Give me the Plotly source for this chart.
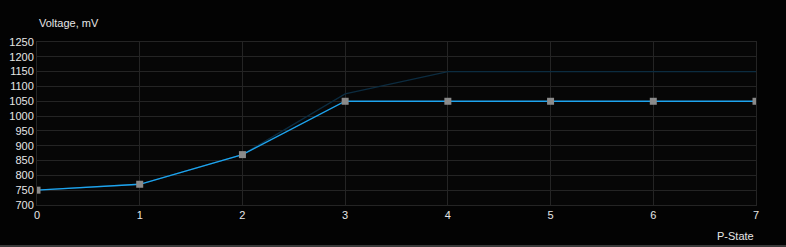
import plotly.graph_objects as go

pstates = [0, 1, 2, 3, 4, 5, 6, 7]
voltage = [750, 770, 870, 1050, 1050, 1050, 1050, 1050]
default_voltage = [750, 770, 870, 1075, 1150, 1150, 1150, 1150]
y_ticks = list(range(700, 1251, 50))

fig = go.Figure()
fig.add_trace(go.Scatter(x=pstates, y=default_voltage, mode="lines",
                         line=dict(color="#0c2c40", width=1.3), hoverinfo="skip"))
fig.add_trace(go.Scatter(x=pstates, y=voltage, mode="lines+markers",
                         line=dict(color="#1ea4ee", width=1.3),
                         marker=dict(symbol="square", size=7, color="#8a8a8a")))

axis_font = dict(family="Liberation Sans, Arial", size=11, color="#e6e6e6")
fig.update_layout(
    width=786, height=247,
    margin=dict(l=37, r=30, t=42, b=42, autoexpand=False),
    paper_bgcolor="#030303", plot_bgcolor="#060606",
    showlegend=False,
    xaxis=dict(range=[0, 7], tickvals=pstates, ticktext=[str(p) for p in pstates],
               showgrid=True, gridcolor="#242424", gridwidth=1,
               showline=True, linecolor="#242424", mirror=True, automargin=False,
               zeroline=False, tickfont=axis_font, ticks="", ticklen=0),
    yaxis=dict(range=[700, 1250], tickvals=y_ticks,
               showgrid=True, gridcolor="#242424", gridwidth=1,
               showline=True, linecolor="#242424", mirror=True, automargin=False,
               zeroline=False, tickfont=axis_font, ticks="", ticklen=0),
    annotations=[
        dict(text="Voltage, mV", x=0, y=1, xref="paper", yref="paper",
             xanchor="left", yanchor="bottom", yshift=11, showarrow=False,
             font=axis_font),
        dict(text="P-State", x=1, y=0, xref="paper", yref="paper",
             xanchor="right", yanchor="top", yshift=-23, showarrow=False,
             font=axis_font),
        dict(text="P-State", x=1, y=1, xref="paper", yref="paper",
             xanchor="right", yanchor="bottom", yshift=40, showarrow=False,
             font=axis_font),
    ],
    shapes=[
        dict(type="line", xref="paper", yref="paper", x0=-0.06, x1=1.05,
             y0=-0.252, y1=-0.252, line=dict(color="#3a3a3a", width=2)),
    ],
)
fig.write_html("out.html")
